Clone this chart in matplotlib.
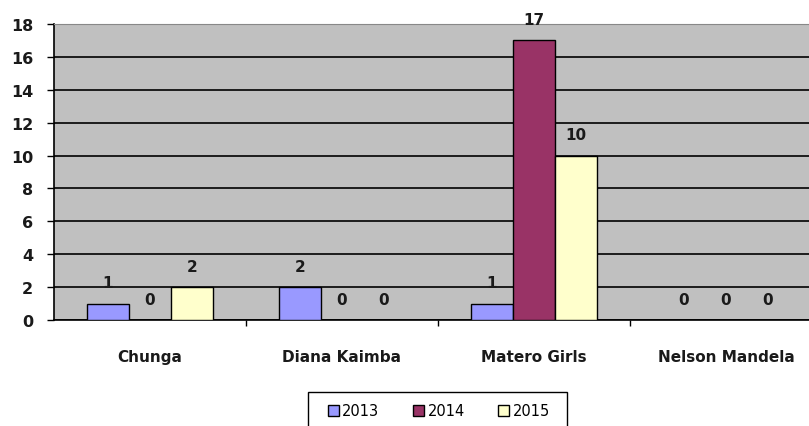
import numpy as np
import matplotlib.pyplot as plt
from matplotlib.patches import Rectangle

# Dados
escolas = ['Chunga', 'Diana Kaimba', 'Matero Girls', 'Nelson Mandela']
anos = ['2013', '2014', '2015']
v2013 = [1, 2, 1, 0]
v2014 = [0, 0, 17, 0]
v2015 = [2, 0, 10, 0]
cores = ['#9999FF', '#993366', '#FFFFCC']

plt.rcParams['font.family'] = ['DejaVu Sans']

fig = plt.figure(figsize=(8.09, 4.27), dpi=100)
ax = fig.add_axes([54 / 809, 1 - 321 / 427, (822 - 54) / 809, (321 - 25) / 427])
ax.set_facecolor('#C0C0C0')

x = np.arange(len(escolas))
w = 0.219
for i, (serie, cor, ano) in enumerate(zip([v2013, v2014, v2015], cores, anos)):
    pos = x + (i - 1) * w
    ax.bar(pos, serie, w, color=cor, edgecolor='black', linewidth=1,
           label=ano, zorder=3)
    for p, v in zip(pos, serie):
        ax.annotate(str(v), (p, v), xytext=(0, 15), textcoords='offset points',
                    ha='center', va='center', fontsize=11, fontweight='bold',
                    color='#1a1a1a', annotation_clip=False)

ax.set_xlim(-0.5, 3.5)
ax.set_ylim(0, 18)
ax.set_yticks(range(0, 19, 2))
ax.yaxis.grid(True, color='black', linewidth=1.2, zorder=1)
ax.set_axisbelow(True)

ax.set_xticks(x)
ax.set_xticklabels(escolas, fontsize=11, fontweight='bold', color='#1a1a1a')
ax.set_xticks(np.arange(0.5, 3.5, 1), minor=True)
ax.tick_params(axis='x', which='major', length=0, pad=21)
ax.tick_params(axis='x', which='minor', length=4, width=1, direction='out')
ax.tick_params(axis='y', length=5, width=1, direction='out', pad=10,
               labelsize=11.5, labelcolor='#1a1a1a')
for lbl in ax.get_yticklabels():
    lbl.set_fontweight('bold')

ax.spines['right'].set_visible(False)
ax.spines['top'].set_color('#888888')
ax.spines['left'].set_linewidth(1.2)
ax.spines['bottom'].set_linewidth(1.2)

# Legenda com moldura desenhada a parte
leg = fig.legend(loc='center', bbox_to_anchor=(439 / 809, 1 - 412 / 427), ncol=3,
                 frameon=False, fontsize=10.5,
                 handlelength=0.75, handleheight=0.75, handletextpad=0.25,
                 columnspacing=2.3)
fig.patches.append(Rectangle((308 / 809, -0.02), 259 / 809, 0.02 + (427 - 393) / 427,
                             transform=fig.transFigure, fill=False,
                             edgecolor='black', linewidth=1))

fig.savefig('out.png', dpi=100)
